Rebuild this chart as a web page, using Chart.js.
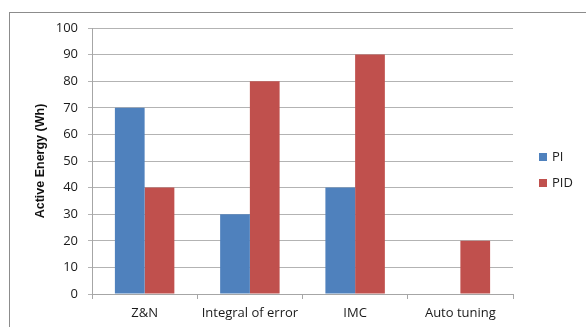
<!DOCTYPE html>
<html>
<head>
<meta charset="utf-8">
<script src="https://cdn.jsdelivr.net/npm/chart.js@4/dist/chart.umd.min.js"></script>
<style>
  html, body { margin: 0; padding: 0; background: #fff; }
  #wrap { position: relative; width: 586px; height: 327px; }
</style>
</head>
<body>
<div id="wrap"><canvas id="c" width="586" height="327"></canvas></div>
<script>
// Tuning methods compared
const categories = ['Z&N', 'Integral of error', 'IMC', 'Auto tuning'];
// Active energy per method (Wh)
const piValues = [70, 30, 40, null];
const pidValues = [40, 80, 90, 20];
const seriesNames = ['PI', 'PID'];
const yTicks = [0, 10, 20, 30, 40, 50, 60, 70, 80, 90, 100];
const yTitle = 'Active Energy (Wh)';

const FONT = '"Open Sans", Lato, sans-serif';
const TITLE_FONT = '"Liberation Sans", Arial, sans-serif';

// outer frame of the chart object
const framePlugin = {
  id: 'frame',
  beforeDraw(chart) {
    const ctx = chart.ctx;
    ctx.save();
    ctx.fillStyle = '#fff';
    ctx.fillRect(0, 0, chart.width, chart.height);
    ctx.strokeStyle = '#8c8c8c';
    ctx.lineWidth = 1;
    ctx.strokeRect(9.5, 12.5, chart.width + 20, chart.height + 20);
    ctx.restore();
  }
};

// legend on the right side
const legendPlugin = {
  id: 'sideLegend',
  afterDraw(chart) {
    const ctx = chart.ctx;
    ctx.save();
    ctx.font = '13px ' + FONT;
    ctx.textBaseline = 'middle';
    chart.data.datasets.forEach((ds, i) => {
      const y = 157 + i * 26;
      ctx.fillStyle = ds.backgroundColor;
      ctx.fillRect(539, y - 4, 8, 8);
      ctx.fillStyle = '#222';
      ctx.fillText(ds.label, 552, y + 0.5);
    });
    ctx.restore();
  }
};

new Chart(document.getElementById('c'), {
  type: 'bar',
  data: {
    labels: categories,
    datasets: [
      { label: seriesNames[0], data: piValues, backgroundColor: '#4F81BD' },
      { label: seriesNames[1], data: pidValues, backgroundColor: '#C0504D' }
    ]
  },
  options: {
    responsive: false,
    animation: false,
    devicePixelRatio: 1,
    layout: { padding: { top: 28, right: 73, left: 0, bottom: 0 } },
    datasets: { bar: { categoryPercentage: 0.565, barPercentage: 1.0, borderWidth: 0 } },
    plugins: { legend: { display: false }, tooltip: { enabled: false } },
    scales: {
      x: {
        afterFit(s) { s.height = 33; },
        grid: { offset: true, drawOnChartArea: false, drawTicks: true, tickLength: 5, color: '#a6a6a6' },
        border: { color: '#a6a6a6' },
        ticks: { color: '#1a1a1a', font: { family: FONT, size: 13 }, padding: 6, maxRotation: 0, autoSkip: false }
      },
      y: {
        min: 0, max: 100,
        afterFit(s) { s.width = 92; },
        afterBuildTicks(s) { s.ticks = yTicks.map(v => ({ value: v })); },
        grid: { color: '#b3b3b3', tickLength: 4 },
        border: { color: '#a6a6a6' },
        ticks: { color: '#1a1a1a', font: { family: FONT, size: 13 }, padding: 10 },
        title: {
          display: true, text: yTitle, color: '#111',
          font: { family: TITLE_FONT, size: 12.5, weight: 'bold' },
          padding: { top: 33, bottom: 0 }
        }
      }
    }
  },
  plugins: [framePlugin, legendPlugin]
});
</script>
</body>
</html>
